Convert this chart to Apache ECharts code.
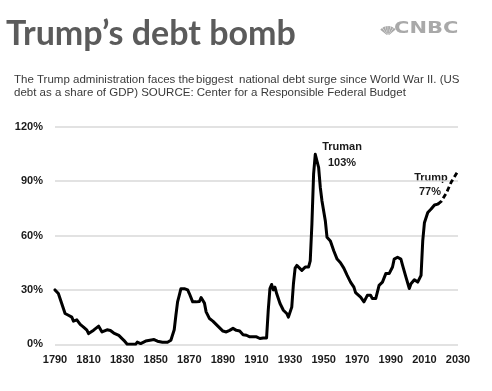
<!DOCTYPE html>
<html>
<head>
<meta charset="utf-8">
<script src="https://cdn.jsdelivr.net/npm/echarts@6/dist/echarts.min.js"></script>
<style>html,body{margin:0;padding:0;background:#fff;}#c{width:492px;height:391px;}</style>
</head>
<body>
<div id="c"></div>
<script>
// Historical US debt as a share of GDP (%)
var years = [1790,1792,1794,1796,1798,1800,1801,1803,1805,1807,1809,1810,1813,1816,1818,1821,1823,1825,1828,1831,1833,1838,1839,1841,1844,1845,1849,1851,1854,1857,1859,1860,1861,1862,1863,1864,1865,1867,1869,1870,1872,1874,1876,1877,1879,1880,1882,1884,1885,1887,1890,1892,1894,1896,1898,1900,1902,1904,1906,1910,1912,1914,1915,1916,1917,1918,1919,1920,1921,1922,1924,1926,1928,1929,1931,1932,1933,1934,1935,1937,1939,1941,1942,1943,1944,1945,1946,1947,1948,1949,1950,1951,1952,1954,1956,1958,1960,1962,1964,1966,1968,1969,1970,1972,1974,1976,1978,1979,1981,1983,1985,1987,1989,1991,1992,1994,1996,1997,1999,2001,2002,2004,2006,2008,2009,2010,2012,2014,2016,2018];
var debt = [30,28,22.5,17,16,15,12.8,13.5,11,9.5,7.8,5.9,7.8,10,6.8,8,7.6,6.2,4.9,2.2,0,0,1.2,0.4,1.8,1.3,2.6,1.7,1.1,1.1,2.2,2,8,16,23.4,27,30.7,30.7,30,28,23.4,23.4,23.6,25.8,22.7,17.9,14.2,12.8,12,10,7.3,6.8,7.7,8.8,7.7,7.3,5.3,5,4.1,4.1,3.2,3.5,3.2,3.5,18.8,30.7,33,30,31.5,28,22.5,18.8,17,15,20.5,33.4,42,43.5,42.5,40.8,42.6,42.6,46,66.4,93.8,104.8,105.7,97.5,86.5,79,78.5,68,59,57,51.6,47,45,42,38,34.3,31.5,28.5,27.5,26,23.4,27,27,25.2,25.2,32.5,34.3,39,39,42.6,47,48,47,43.5,37,30.8,33.4,35.6,34.3,38,57,67,72.7,74.6,76.8,77.3];
// Projection under Trump
var projYears = [2018,2020,2023,2026,2030];
var projDebt = [77.3,78.8,83.3,89.5,95.5];
// Axis ticks
var xTicks = [1790,1810,1830,1850,1870,1890,1910,1930,1950,1970,1990,2010,2030];
var yTicks = [0,30,60,90,120];

function pairs(xs, ys){ return xs.map(function(x,i){ return [x, ys[i]]; }); }

var chart = echarts.init(document.getElementById('c'), null, {renderer:'canvas'});
var labelFont = {fontFamily:'Liberation Sans', fontWeight:'bold', fontSize:11, color:'#1a1a1a'};
var annFont = {fontFamily:'Liberation Sans', fontWeight:'bold', fontSize:11, fill:'#1a1a1a', align:'center', verticalAlign:'middle'};
var subFont = {fontFamily:'Liberation Sans', fontSize:11.5, fill:'#3a3a3a', verticalAlign:'top'};

var feathers = [];
for (var i = 0; i < 6; i++) {
  var a0 = Math.PI * (1.22 + i * 0.095);
  feathers.push({type:'sector', shape:{cx:0, cy:0, r0:1.5, r:10, startAngle:a0, endAngle:a0 + Math.PI*0.08}, style:{fill:'#a9a9a9'}});
}

chart.setOption({
  animation:false,
  backgroundColor:'#fff',
  grid:{left:55, right:34, top:126.7, bottom:46.7},
  xAxis:{
    type:'value', min:xTicks[0], max:xTicks[xTicks.length-1], interval:20,
    axisLine:{show:false}, axisTick:{show:false}, splitLine:{show:false},
    axisLabel:Object.assign({margin:10, formatter:function(v){return String(v);}, showMinLabel:true, showMaxLabel:true}, labelFont)
  },
  yAxis:{
    type:'value', min:yTicks[0], max:yTicks[yTicks.length-1], interval:30,
    axisLine:{show:false}, axisTick:{show:false},
    splitLine:{show:true, lineStyle:{color:'#d9d9d9', width:1.5}},
    axisLabel:Object.assign({margin:12, formatter:function(v){return v+'%';}}, labelFont)
  },
  series:[
    {type:'line', data:pairs(years, debt), showSymbol:false, symbol:'none',
     lineStyle:{color:'#000', width:3, join:'round', cap:'round'}},
    {type:'line', data:pairs(projYears, projDebt), showSymbol:false, symbol:'none',
     lineStyle:{color:'#000', width:2.8, type:[5,3]}}
  ],
  graphic:[
    {type:'text', left:6, top:17, style:{text:'Trump\u2019s debt bomb', fontFamily:'Lato', fontWeight:'bold', fontSize:34, fill:'#5b5b5b'}},
    {type:'text', x:394, y:22, scaleX:1.4, style:{text:'CNBC', fontFamily:'DejaVu Sans', fontWeight:'bold', fontSize:15, fill:'#a9a9a9'}},
    {type:'group', x:388, y:36, children:feathers},
    {type:'text', x:14, y:74, style:Object.assign({text:'The Trump administration faces the'}, subFont)},
    {type:'text', x:196, y:74, style:Object.assign({text:'biggest'}, subFont)},
    {type:'text', x:239, y:74, style:Object.assign({text:'national debt surge since World War II. (US'}, subFont)},
    {type:'text', x:14, y:86.5, style:Object.assign({text:'debt as a share of GDP) SOURCE: Center for a Responsible Federal Budget'}, subFont)},
    {type:'text', x:342, y:147, style:Object.assign({text:'Truman'}, annFont)},
    {type:'text', x:342, y:162.5, style:Object.assign({text:'103%'}, annFont)},
    {type:'text', x:431, y:177.5, style:Object.assign({text:'Trump'}, annFont)},
    {type:'text', x:430, y:191.5, style:Object.assign({text:'77%'}, annFont)}
  ]
});
</script>
</body>
</html>
